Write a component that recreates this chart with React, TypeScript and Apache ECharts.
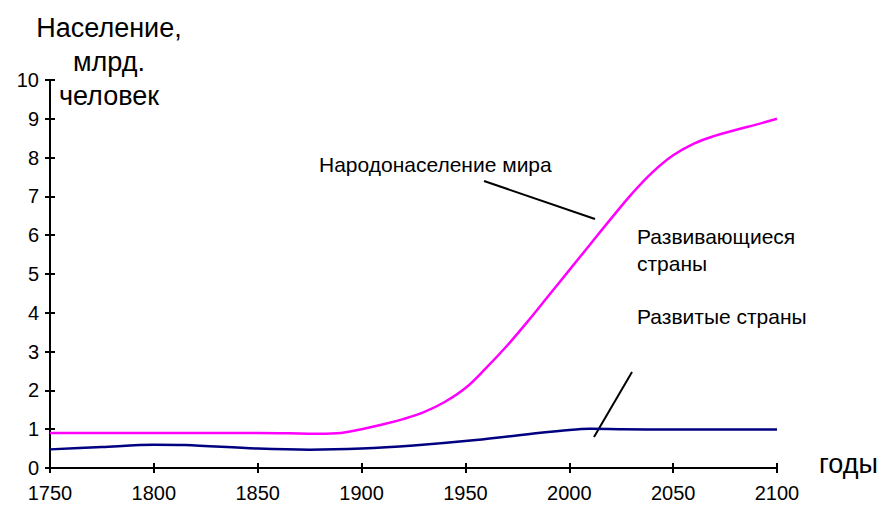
import React, { useEffect, useRef } from "react";
import * as echarts from "echarts";

const worldYears = [1750, 1800, 1850, 1870, 1880, 1890, 1900, 1910, 1920, 1930, 1940, 1950, 1960, 1970, 1980, 1990, 2000, 2010, 2020, 2030, 2040, 2050, 2060, 2070, 2080, 2090, 2100];
const worldValues = [0.9, 0.9, 0.9, 0.89, 0.88, 0.9, 1.0, 1.12, 1.26, 1.44, 1.7, 2.06, 2.58, 3.15, 3.78, 4.44, 5.1, 5.76, 6.42, 7.06, 7.62, 8.06, 8.36, 8.56, 8.71, 8.85, 9.0];
const devYears = [1750, 1775, 1800, 1815, 1850, 1875, 1900, 1925, 1955, 1985, 2000, 2010, 2025, 2050, 2100];
const devValues = [0.48, 0.54, 0.6, 0.59, 0.5, 0.47, 0.5, 0.58, 0.72, 0.9, 0.98, 1.01, 1.0, 0.99, 0.99];
const xTicks = { min: 1750, max: 2100, interval: 50 };
const yTicks = { min: 0, max: 10, interval: 1 };

const FONT = "Liberation Sans, Arial, sans-serif";

export default function App() {
  const ref = useRef<HTMLDivElement>(null);
  useEffect(() => {
    if (!ref.current) return;
    const chart = echarts.init(ref.current, null, { renderer: "svg" });
    const axisBase = {
      type: "value" as const,
      splitLine: { show: false },
      axisLine: { show: true, lineStyle: { color: "#000", width: 2 } },
    };
    const tickStyle = { color: "#000", width: 2 };
    chart.setOption({
      animation: false,
      backgroundColor: "#fff",
      grid: { left: 50, right: 103, top: 80, bottom: 40 },
      xAxis: [
        {
          ...axisBase,
          ...xTicks,
          axisTick: { show: true, inside: false, length: 5, lineStyle: tickStyle },
          axisLabel: { color: "#000", fontSize: 20, fontFamily: FONT, margin: 15, formatter: (v: number) => String(v) },
        },
        {
          ...axisBase,
          ...xTicks,
          position: "bottom",
          axisLine: { show: false },
          axisTick: { show: true, inside: true, length: 5, lineStyle: tickStyle },
          axisLabel: { show: false },
        },
      ],
      yAxis: [
        {
          ...axisBase,
          ...yTicks,
          axisTick: { show: true, inside: false, length: 5, lineStyle: tickStyle },
          axisLabel: { color: "#000", fontSize: 20, fontFamily: FONT, margin: 11 },
        },
        {
          ...axisBase,
          ...yTicks,
          position: "left",
          axisLine: { show: false },
          axisTick: { show: true, inside: true, length: 5, lineStyle: tickStyle },
          axisLabel: { show: false },
        },
      ],
      series: [
        {
          name: "Народонаселение мира",
          type: "line",
          smooth: 0.4,
          showSymbol: false,
          data: worldYears.map((y, i) => [y, worldValues[i]]),
          lineStyle: { color: "#FF00FF", width: 2.5 },
          itemStyle: { color: "#FF00FF" },
        },
        {
          name: "Развитые страны",
          type: "line",
          smooth: 0.3,
          showSymbol: false,
          data: devYears.map((y, i) => [y, devValues[i]]),
          lineStyle: { color: "#000080", width: 2.5 },
          itemStyle: { color: "#000080" },
        },
      ],
      graphic: [
        { type: "text", x: 109, y: 28, style: { text: "Население,", font: `27px ${FONT}`, fill: "#000", textAlign: "center", textVerticalAlign: "middle" } },
        { type: "text", x: 109, y: 62, style: { text: "млрд.", font: `27px ${FONT}`, fill: "#000", textAlign: "center", textVerticalAlign: "middle" } },
        { type: "text", x: 109, y: 96, style: { text: "человек", font: `27px ${FONT}`, fill: "#000", textAlign: "center", textVerticalAlign: "middle" } },
        { type: "text", x: 819, y: 464, style: { text: "годы", font: `27px ${FONT}`, fill: "#000", textAlign: "left", textVerticalAlign: "middle" } },
        { type: "text", x: 319, y: 164, style: { text: "Народонаселение мира", font: `21px ${FONT}`, fill: "#000", textAlign: "left", textVerticalAlign: "middle" } },
        { type: "text", x: 637, y: 236, style: { text: "Развивающиеся", font: `21px ${FONT}`, fill: "#000", textAlign: "left", textVerticalAlign: "middle" } },
        { type: "text", x: 637, y: 263, style: { text: "страны", font: `21px ${FONT}`, fill: "#000", textAlign: "left", textVerticalAlign: "middle" } },
        { type: "text", x: 637, y: 316, style: { text: "Развитые страны", font: `21px ${FONT}`, fill: "#000", textAlign: "left", textVerticalAlign: "middle" } },
        { type: "line", shape: { x1: 484, y1: 181, x2: 595, y2: 219 }, style: { stroke: "#000", lineWidth: 2 } },
        { type: "line", shape: { x1: 632, y1: 372, x2: 594, y2: 437 }, style: { stroke: "#000", lineWidth: 2 } },
      ],
    });
    return () => chart.dispose();
  }, []);
  return <div ref={ref} style={{ position: "fixed", left: 0, top: 0, width: 880, height: 508 }} />;
}
